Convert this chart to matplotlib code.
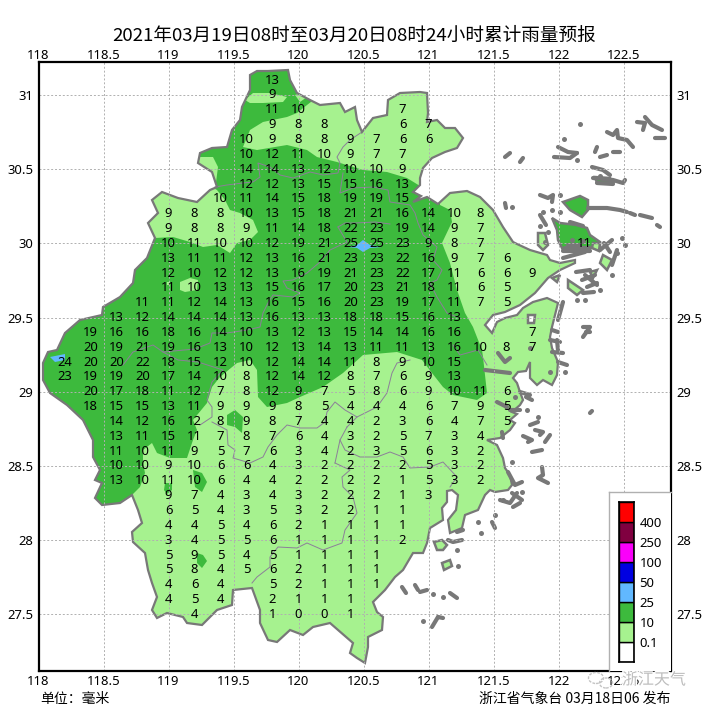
# 24h rainfall forecast map for Zhejiang
import matplotlib
matplotlib.use('Agg')
import matplotlib.pyplot as plt
from matplotlib.patches import Polygon, Ellipse
import matplotlib.patheffects as pe

plt.rcParams['font.family'] = ['Noto Sans CJK SC', 'DejaVu Sans']

LIGHT = '#A6F28F'
DARK = '#3DBA3D'
BLUE = '#61B8FF'
GRAY = '#787878'
BORDER = '#8C7F99'

title = '2021年03月19日08时至03月20日08时24小时累计雨量预报'
lon_ticks = [118, 118.5, 119, 119.5, 120, 120.5, 121, 121.5, 122, 122.5]
lat_ticks = [27.5, 28, 28.5, 29, 29.5, 30, 30.5, 31]

legend_colors = ['#FFFFFF', LIGHT, DARK, BLUE, '#0000E1', '#FA00FA', '#800040', '#FF0000']
legend_levels = ['0.1', '10', '25', '50', '100', '250', '400']

# station rows: lat -> (first lon, values every 0.2 deg), None = no value
rain_rows = {
    31.1: (119.8, [13]),
    31.0: (119.8, [9]),
    30.9: (119.8, [11, 10, None, None, None, 7]),
    30.8: (119.8, [9, 8, 8, None, None, 6, 7]),
    30.7: (119.6, [10, 9, 8, 8, 9, 7, 6, 6]),
    30.6: (119.6, [10, 12, 11, 10, 9, 7, 7]),
    30.5: (119.6, [14, 14, 13, 12, 10, 10, 9]),
    30.4: (119.6, [12, 12, 13, 15, 15, 16, 13]),
    30.3: (119.4, [10, 11, 14, 15, 18, 19, 19, 15]),
    30.2: (119.0, [9, 8, 8, 10, 13, 15, 18, 21, 21, 16, 14, 10, 8]),
    30.1: (119.0, [9, 8, 8, 9, 11, 14, 18, 22, 23, 19, 14, 9, 7]),
    30.0: (119.0, [10, 11, 10, 10, 12, 19, 21, 25, 25, 23, 9, 8, 7, None, None, None, 11]),
    29.9: (119.0, [13, 11, 11, 12, 13, 16, 21, 23, 23, 22, 16, 9, 7, 6]),
    29.8: (119.0, [12, 10, 12, 12, 13, 16, 19, 21, 23, 22, 17, 11, 6, 6, 9]),
    29.7: (119.0, [11, 10, 13, 13, 15, 16, 17, 20, 23, 21, 18, 11, 6, 5]),
    29.6: (118.8, [11, 11, 12, 14, 13, 16, 15, 16, 20, 23, 19, 17, 11, 7, 5]),
    29.5: (118.6, [13, 12, 14, 14, 14, 13, 16, 13, 13, 18, 18, 15, 16, 13]),
    29.4: (118.4, [19, 16, 16, 18, 16, 14, 10, 13, 12, 13, 15, 14, 14, 16, 16, None, None, 7]),
    29.3: (118.4, [20, 19, 21, 19, 16, 13, 10, 12, 13, 14, 13, 11, 11, 13, 16, 10, 8, 7]),
    29.2: (118.2, [24, 20, 20, 22, 18, 15, 12, 10, 12, 14, 14, 11, 8, 9, 10, 15]),
    29.1: (118.2, [23, 19, 19, 20, 17, 14, 10, 8, 12, 14, 12, 8, 7, 6, 9, 13]),
    29.0: (118.4, [20, 17, 18, 11, 12, 7, 8, 12, 9, 7, 5, 8, 6, 9, 10, 11, 6]),
    28.9: (118.4, [18, 15, 15, 13, 11, 9, 9, 9, 8, 5, 4, 4, 4, 6, 7, 9, 5]),
    28.8: (118.6, [14, 12, 16, 12, 8, 9, 8, 7, 4, 4, 2, 3, 6, 4, 7, 5]),
    28.7: (118.6, [13, 11, 15, 11, 7, 8, 7, 6, 4, 3, 2, 5, 7, 3, 4]),
    28.6: (118.6, [11, 10, 11, 9, 5, 7, 6, 3, 4, 2, 3, 5, 6, 3, 2]),
    28.5: (118.6, [10, 10, 9, 10, 6, 6, 4, 3, 2, 2, 2, 2, 5, 3, 2]),
    28.4: (118.6, [13, 10, 11, 10, 6, 4, 4, 2, 2, 2, 2, 1, 5, 3, 2]),
    28.3: (119.0, [9, 7, 4, 3, 4, 3, 2, 2, 2, 1, 3]),
    28.2: (119.0, [6, 5, 4, 3, 5, 3, 2, 2, 1, 1]),
    28.1: (119.0, [4, 4, 5, 4, 6, 2, 1, 1, 1, 1]),
    28.0: (119.0, [3, 4, 5, 5, 6, 1, 1, 1, 1, 2]),
    27.9: (119.0, [5, 9, 5, 4, 5, 1, 1, 1, 1]),
    27.8: (119.0, [5, 8, 4, 5, 6, 2, 1, 1, 1]),
    27.7: (119.0, [4, 6, 4, None, 5, 2, 1, 1, 1]),
    27.6: (119.0, [4, 5, 4, None, 2, 1, 1, 1]),
    27.5: (119.2, [4, None, None, 1, 0, 0, 1]),
}

# outlines (image pixels), converted by geo() below
province_px = [
    (250, 75), (257, 71), (268, 71), (288, 70), (290, 80), (297, 93), (310, 100), (320, 105), (340, 103),
    (345, 112), (355, 107), (357, 120), (362, 132), (373, 118), (387, 115), (388, 100), (400, 93), (420, 92),
    (427, 93), (428, 113), (427, 122), (437, 120), (445, 128), (455, 128), (463, 138), (457, 148), (445, 152),
    (432, 158), (423, 168), (420, 178), (420, 185), (413, 192), (421, 196), (413, 202), (427, 197), (438, 204),
    (450, 193), (467, 191), (480, 197), (493, 210), (503, 227), (513, 242), (517, 244), (530, 250), (547, 255),
    (550, 260), (560, 263), (575, 260), (575, 263), (560, 270), (548, 278), (535, 293), (520, 305), (505, 312),
    (493, 315), (485, 325), (492, 333), (497, 322), (505, 318), (517, 315), (523, 308), (533, 302), (547, 298),
    (558, 303), (555, 315), (552, 327), (550, 337), (552, 348), (558, 362), (557, 375), (552, 385), (543, 380),
    (537, 385), (530, 378), (530, 362), (526, 371), (518, 372), (513, 378), (517, 383), (520, 392), (523, 400),
    (520, 405), (512, 412), (517, 414), (510, 420), (515, 423), (510, 430), (500, 438), (487, 440), (497, 445),
    (503, 458), (505, 468), (510, 475), (512, 485), (508, 490), (495, 492), (490, 490), (485, 495), (478, 510),
    (465, 515), (462, 528), (450, 533), (448, 520), (456, 510), (458, 495), (452, 490), (447, 491), (447, 502),
    (442, 508), (443, 520), (430, 528), (427, 543), (423, 553), (413, 553), (403, 570), (395, 577), (385, 590),
    (373, 602), (377, 612), (383, 617), (382, 630), (368, 637), (368, 647), (365, 663), (357, 658), (350, 653),
    (353, 643), (330, 623), (313, 627), (303, 635), (290, 630), (277, 642), (268, 640), (260, 623), (260, 610),
    (252, 588), (233, 590), (232, 605), (217, 610), (202, 625), (187, 623), (183, 617), (167, 613), (157, 618),
    (152, 610), (157, 597), (152, 583), (148, 570), (145, 553), (133, 542), (132, 532), (142, 523), (138, 510),
    (132, 495), (120, 503), (102, 505), (95, 498), (102, 483), (95, 480), (100, 470), (93, 457), (93, 440),
    (83, 420), (67, 405), (50, 393), (43, 380), (43, 363), (48, 352), (57, 350), (65, 333), (80, 320),
    (102, 315), (103, 307), (120, 297), (133, 283), (135, 270), (147, 258), (155, 238), (148, 223), (158, 213),
    (152, 200), (162, 192), (178, 198), (197, 202), (210, 190), (217, 187), (212, 172), (198, 163), (200, 153),
    (212, 148), (227, 147), (232, 130), (240, 120), (242, 107), (250, 90),
]

dark_px = [
    (120, 245), (155, 238), (173, 237), (190, 242), (203, 247), (217, 245), (230, 253), (237, 243), (250, 240),
    (258, 232), (253, 220), (240, 213), (230, 210), (225, 200), (217, 190), (200, 180), (190, 100), (250, 50),
    (330, 50), (440, 180), (440, 205), (450, 210), (452, 222), (442, 243), (450, 263), (457, 290), (465, 313),
    (473, 327), (482, 350), (483, 357), (487, 393), (477, 400), (453, 395), (443, 387), (432, 373), (422, 360),
    (397, 352), (363, 355), (343, 373), (323, 387), (300, 397), (287, 403), (267, 407), (258, 397), (257, 370),
    (250, 360), (237, 363), (220, 377), (212, 387), (207, 403), (193, 420), (197, 430), (193, 440), (187, 458),
    (170, 458), (157, 453), (152, 443), (143, 450), (143, 463), (145, 473), (140, 487), (132, 495), (90, 520),
    (20, 400), (20, 300),
]

light_overlays_px = [
    [(243, 147), (250, 130), (263, 122), (287, 117), (297, 113), (307, 105), (320, 95), (440, 80), (480, 140),
     (430, 190), (420, 186), (407, 178), (387, 172), (363, 170), (337, 162), (317, 157), (307, 150), (287, 145),
     (257, 150)],
    [(245, 100), (253, 93), (270, 93), (287, 97), (283, 102), (263, 103), (250, 103)],
    [(295, 95), (302, 93), (307, 97), (300, 102)],
    [(195, 157), (213, 157), (218, 167), (215, 190), (205, 175)],
    [(180, 282), (190, 278), (198, 280), (197, 290), (185, 292), (180, 290)],
    [(167, 282), (170, 282), (170, 285), (167, 285)],
]

dark_patches_px = [
    [(193, 470), (202, 473), (207, 482), (202, 492), (195, 487)],
    [(165, 483), (172, 483), (172, 490), (167, 494), (164, 490)],
    [(227, 415), (235, 410), (243, 417), (242, 433), (235, 427), (227, 425)],
    [(197, 553), (203, 555), (207, 561), (202, 568), (197, 563)],
]

blue_patches_px = [
    [(50, 357), (65, 354), (65, 360), (55, 362)],
    [(348, 247), (357, 245), (363, 240), (370, 245), (382, 247), (370, 248), (363, 252), (357, 248)],
]

county_lines_px = [
    [(215, 187), (227, 185), (243, 183), (253, 182), (260, 177), (258, 163), (270, 167), (280, 175), (293, 178),
     (310, 172), (323, 175), (338, 173), (340, 163), (337, 157), (343, 147), (350, 140), (362, 132)],
    [(343, 173), (340, 193), (353, 188), (373, 187), (388, 190), (390, 202), (410, 205), (415, 213), (418, 223),
     (423, 235), (437, 247), (433, 260), (442, 270), (437, 280), (430, 283), (437, 297), (447, 313), (457, 317)],
    [(338, 227), (345, 223), (355, 223), (375, 222), (390, 224)],
    [(338, 227), (347, 242), (330, 250), (320, 262), (307, 273), (293, 280), (283, 281), (287, 288), (300, 293),
     (293, 297), (273, 295), (268, 303), (263, 313), (260, 327), (247, 330), (227, 333), (212, 333), (210, 343),
     (195, 349), (163, 352), (153, 345), (133, 352), (123, 365)],
    [(163, 352), (178, 360), (198, 362), (223, 370), (212, 382), (207, 400), (212, 407), (212, 417), (200, 425)],
    [(212, 422), (227, 430), (228, 445), (235, 450), (233, 458), (250, 463), (263, 457), (268, 447), (277, 435),
     (287, 425), (300, 428), (317, 428), (325, 422), (327, 412), (335, 402), (345, 410), (357, 417), (377, 407),
     (387, 393), (392, 373), (397, 363), (410, 360)],
    [(252, 583), (257, 577), (270, 567), (270, 557), (278, 547), (297, 548), (307, 543), (323, 550), (342, 543),
     (345, 530), (357, 513), (353, 497), (343, 487), (342, 477), (350, 470), (335, 463)],
    [(347, 427), (340, 440), (345, 450), (360, 457), (377, 457), (390, 452), (403, 457), (410, 468), (430, 467),
     (443, 462), (457, 477), (450, 487)],
    [(357, 417), (347, 427)],
    [(340, 440), (335, 463)],
    [(453, 345), (460, 355), (478, 350), (487, 365)],
]

# islands filled green with a grey edge
islands_px = [
    ([(563, 202), (580, 196), (588, 200), (588, 210), (582, 217), (570, 210)], DARK),
    ([(552, 218), (560, 223), (577, 225), (587, 228), (590, 235), (600, 242), (600, 250), (590, 247), (563, 250),
      (558, 240), (557, 230)], DARK),
    ([(593, 243), (600, 243), (599, 251), (592, 248)], LIGHT),
    ([(538, 233), (545, 233), (548, 245), (543, 250), (538, 245)], LIGHT),
    ([(603, 255), (612, 260), (607, 270), (600, 263)], LIGHT),
    ([(590, 272), (597, 270), (593, 278)], LIGHT),
    ([(568, 280), (583, 290), (577, 295), (568, 288)], LIGHT),
    ([(552, 278), (560, 275), (557, 282)], LIGHT),
    ([(434, 542), (442, 540), (447, 545), (443, 550), (437, 550)], LIGHT),
    ([(442, 563), (450, 560), (452, 566), (444, 570)], LIGHT),
    ([(595, 177), (610, 178), (613, 182), (597, 183)], DARK),
    ([(528, 315), (535, 315), (534, 323), (528, 323)], 'white'),
]

island_strokes_px = [
    [(558, 147), (568, 152), (577, 153)], [(554, 157), (570, 158), (577, 153)], [(520, 162), (523, 158)],
    [(505, 157), (510, 153)], [(595, 152), (597, 147)],
    [(607, 132), (613, 135), (617, 130), (618, 138), (627, 140), (633, 147)], [(613, 152), (620, 152)],
    [(600, 157), (607, 155)], [(637, 122), (645, 123), (643, 130)], [(645, 117), (652, 125), (662, 130)],
    [(655, 138), (665, 138)], [(592, 167), (603, 170), (610, 175)], [(593, 178), (613, 180), (623, 183), (625, 180)],
    [(597, 183), (613, 184)], [(540, 195), (548, 198), (553, 195), (552, 202)], [(505, 203), (506, 208)],
    [(588, 208), (607, 208), (620, 210), (627, 212)], [(630, 213), (635, 215)], [(640, 215), (652, 218)],
    [(657, 225), (660, 227)], [(565, 248), (590, 248)], [(563, 251), (590, 251)], [(612, 240), (600, 250)],
    [(617, 250), (612, 265)], [(585, 275), (597, 285)], [(587, 287), (597, 283)], [(583, 293), (594, 292)],
    [(583, 327), (590, 327), (583, 337)], [(586, 332), (590, 332)], [(485, 370), (510, 373)], [(498, 353), (505, 362), (510, 358)],
    [(497, 402), (507, 407)], [(502, 432), (503, 438)], [(510, 410), (520, 410)], [(526, 397), (532, 400)],
    [(530, 425), (538, 422)], [(535, 430), (543, 432), (540, 435)], [(550, 435), (545, 442)],
    [(523, 436), (532, 440), (528, 442)], [(532, 452), (542, 450)], [(590, 413), (592, 411)],
    [(542, 467), (543, 475), (538, 478), (548, 483)], [(508, 472), (515, 485), (522, 482)], [(512, 493), (522, 500)],
    [(500, 500), (510, 503), (517, 493)], [(513, 507), (520, 503)], [(448, 540), (453, 542), (462, 540)],
    [(457, 532), (463, 530)], [(492, 522), (495, 528)], [(402, 587), (406, 593)], [(415, 585), (418, 590)],
    [(420, 592), (427, 590)], [(450, 593), (457, 598)], [(438, 617), (432, 627)], [(438, 617), (443, 618)],
    [(558, 362), (567, 365)], [(557, 340), (558, 350)], [(563, 302), (558, 320)], [(552, 330), (558, 332)],
    [(550, 340), (560, 342)], [(552, 352), (563, 353)], [(520, 392), (530, 395)], [(540, 215), (546, 225)],
    [(563, 258), (585, 252)], [(568, 245), (580, 245)], [(570, 222), (583, 226)], [(604, 243), (610, 252)],
    [(576, 272), (590, 270)], [(582, 280), (595, 275)],
]

island_dots_px = [
    (577, 160), (580, 124), (564, 139), (512, 207), (543, 212), (538, 417), (527, 410), (512, 462), (503, 500),
    (457, 550), (458, 566), (481, 533), (478, 522), (433, 594), (443, 597), (423, 621), (617, 253), (577, 300),
    (548, 232), (540, 226), (545, 242), (552, 210), (560, 212), (560, 195), (600, 176), (625, 245), (622, 238),
    (612, 275), (600, 290), (585, 300), (550, 372), (565, 372), (530, 348), (515, 397), (522, 492), (495, 515),
    (572, 240), (583, 241),
]

# image pixel -> lon/lat
X0, PX_LON, Y0, PX_LAT = 38.5, 130.0, 95.0, 148.4


def geo(pts):
    return [(118 + (x - X0) / PX_LON, 31 - (y - Y0) / PX_LAT) for x, y in pts]


W, H = 710, 710
fig = plt.figure(figsize=(W / 100, H / 100), dpi=100, facecolor='white')
ax = fig.add_axes([X0 / W, 1 - 671 / H, (671 - X0) / W, (671 - 62) / H])
ax.set_xlim(118, 118 + (671 - X0) / PX_LON)
ax.set_ylim(31 - (671 - Y0) / PX_LAT, 31 - (62 - Y0) / PX_LAT)

province = Polygon(geo(province_px), closed=True, facecolor=LIGHT, edgecolor='none', zorder=0.5)
ax.add_patch(province)


def clipped(pts, color, z):
    p = Polygon(geo(pts), closed=True, facecolor=color, edgecolor='none', zorder=z)
    ax.add_patch(p)
    p.set_clip_path(province)


clipped(dark_px, DARK, 0.6)
for pts in light_overlays_px:
    clipped(pts, LIGHT, 0.7)
for pts in dark_patches_px:
    clipped(pts, DARK, 0.8)
for pts in blue_patches_px:
    clipped(pts, BLUE, 0.9)

for line in county_lines_px:
    xs, ys = zip(*geo(line))
    ax.plot(xs, ys, color=BORDER, lw=0.7, zorder=1)

# outline of the coast and border
ax.add_patch(Polygon(geo(province_px), closed=True, facecolor='none', edgecolor=GRAY, lw=1.6, zorder=1.5))

for pts, color in islands_px:
    ax.add_patch(Polygon(geo(pts), closed=True, facecolor=color, edgecolor=GRAY, lw=1.8, zorder=1.6))
for line in island_strokes_px:
    xs, ys = zip(*geo(line))
    ax.plot(xs, ys, color=GRAY, lw=3.0, solid_capstyle='round', solid_joinstyle='round', zorder=1.6)
xs, ys = zip(*geo(island_dots_px))
ax.plot(xs, ys, 'o', color=GRAY, ms=3.6, mew=0, zorder=1.6)

tick_font = ['Noto Sans', 'DejaVu Sans']
ax.set_xticks(lon_ticks)
ax.set_xticklabels([f'{v:g}' for v in lon_ticks], family=tick_font)
ax.set_yticks(lat_ticks)
ax.set_yticklabels([f'{v:g}' for v in lat_ticks], family=tick_font)
ax.grid(True, color='#B0B0B0', lw=0.7, ls=(0, (2, 2)))
ax.set_axisbelow(False)
ax.tick_params(axis='x', length=0, pad=3, labelsize=9.4)
ax.tick_params(axis='y', right=True, labelright=True, length=0, pad=4, labelsize=9.4)
for lab in ax.get_yticklabels(which='both'):
    lab.set_family(tick_font)

# top labels sit closer to the frame than the bottom ones
top = ax.secondary_xaxis('top')
top.set_xticks(lon_ticks)
top.set_xticklabels([f'{v:g}' for v in lon_ticks], family=tick_font)
top.tick_params(length=0, pad=0, labelsize=9.4)
top.spines['top'].set_visible(False)

for s in ax.spines.values():
    s.set_linewidth(1.6)
    s.set_zorder(6)

for lat, (lon0, vals) in rain_rows.items():
    for i, v in enumerate(vals):
        if v is None:
            continue
        ax.text(lon0 + 0.2 * i, lat, str(v), ha='center', va='center', fontsize=9.4,
                family=tick_font, color='black', zorder=5)

# legend box in the lower right corner
box = fig.add_axes([609 / W, 1 - 671 / H, 62 / W, (671 - 492) / H], zorder=3, facecolor='white')
box.set_xticks([])
box.set_yticks([])
for name, s in box.spines.items():
    s.set_color('#B0B0B0')
    s.set_linewidth(1.0)
box.spines['right'].set_visible(False)
box.spines['bottom'].set_visible(False)

bar_ax = fig.add_axes([619 / W, 1 - 662 / H, 15 / W, 160 / H], zorder=4)
bar_ax.bar([0] * len(legend_colors), [1] * len(legend_colors), bottom=range(len(legend_colors)), width=1,
           color=legend_colors, edgecolor='black', linewidth=1.0)
bar_ax.set_xlim(-0.5, 0.5)
bar_ax.set_ylim(0, len(legend_colors))
bar_ax.set_xticks([])
bar_ax.yaxis.tick_right()
bar_ax.set_yticks(range(1, len(legend_levels) + 1))
bar_ax.set_yticklabels(legend_levels, family=tick_font)
bar_ax.tick_params(length=0, pad=4, labelsize=9.4)
for s in bar_ax.spines.values():
    s.set_linewidth(1.2)

fig.text(354 / W, 1 - 36 / H, title, ha='center', va='center', fontsize=13.4)
fig.text(40 / W, 1 - 699 / H, '单位：毫米', ha='left', va='center', fontsize=10)
fig.text(670 / W, 1 - 699 / H, '浙江省气象台 03月18日06 发布', ha='right', va='center', fontsize=10)

# wechat watermark
mark = fig.text(654 / W, 1 - 680 / H, '浙江天气', ha='center', va='center', fontsize=11.5, color='#BDBDBD', zorder=10)
mark.set_path_effects([pe.withStroke(linewidth=2, foreground='white')])
for cx, cy, rx, ry in [(596, 678, 15, 11), (606, 683, 13, 10)]:
    fig.add_artist(Ellipse((cx / W, 1 - cy / H), rx / W, ry / H, transform=fig.transFigure, facecolor='none',
                           edgecolor='#C4C4C4', lw=1.0, ls=(0, (2, 1)), zorder=10))

fig.savefig('out.png', dpi=100)
